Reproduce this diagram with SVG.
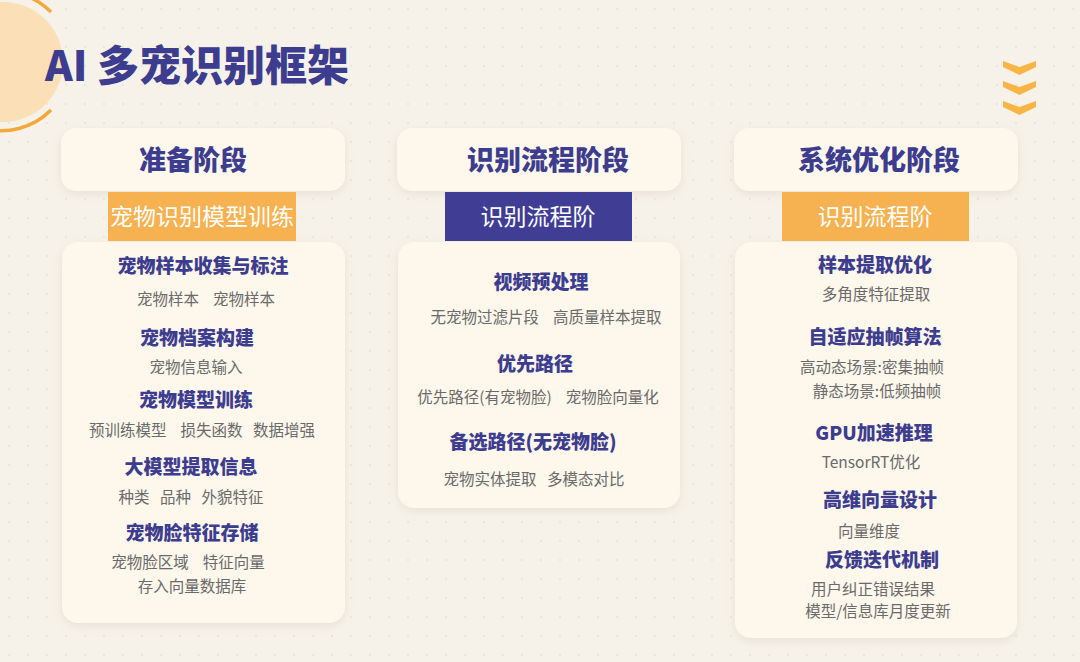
<svg xmlns="http://www.w3.org/2000/svg" width="1080" height="662" viewBox="0 0 1080 662">
<defs>
<pattern id="dots" x="0" y="0" width="19" height="19" patternUnits="userSpaceOnUse">
<circle cx="9" cy="9" r="1.1" fill="#e9e3d6"/>
</pattern>
<filter id="sh" x="-10%" y="-10%" width="120%" height="130%">
<feDropShadow dx="0" dy="3" stdDeviation="5" flood-color="#b8a98a" flood-opacity="0.22"/>
</filter>
<style>
.card{fill:#fdf7ec;filter:url(#sh);}
.head{font-family:"Noto Sans CJK SC","Noto Sans",sans-serif;font-weight:900;font-size:27px;fill:#3d3d8f;text-anchor:middle;}
.sub{font-family:"Noto Sans CJK SC","Noto Sans",sans-serif;font-weight:400;font-size:23px;fill:#ffffff;text-anchor:middle;}
.t{font-family:"Noto Sans CJK SC","Noto Sans",sans-serif;font-weight:900;font-size:19px;fill:#3d3d8f;text-anchor:middle;}
.d{font-family:"Noto Sans CJK SC","Noto Sans",sans-serif;font-weight:400;font-size:15.5px;fill:#6a6a6a;text-anchor:middle;}
.chev{fill:#f8b545;}
</style>
</defs>
<rect width="1080" height="662" fill="#f6f2e9"/>
<rect width="1080" height="662" fill="url(#dots)"/>

<g id="decor">
<circle cx="3" cy="62" r="60" fill="#fadcae" opacity="0.85"/>
<path d="M 51 12 A 70 70 0 0 0 -18 -6" fill="none" stroke="#f5a83a" stroke-width="3.5"/>
<path d="M 51 110 A 70 70 0 0 1 -18 128" fill="none" stroke="#f5a83a" stroke-width="3.5"/>
<g id="chevrons">
<polygon class="chev" points="1003,61 1019.5,67 1036,61 1036,67 1019.5,75 1003,67"/>
<polygon class="chev" points="1003,81 1019.5,87 1036,81 1036,87 1019.5,95 1003,87"/>
<polygon class="chev" points="1003,101 1019.5,107 1036,101 1036,107 1019.5,115 1003,107"/>
</g>
</g>

<text id="title" x="45" y="81" font-family="'Noto Sans CJK SC','Noto Sans',sans-serif" font-weight="900" font-size="42" fill="#3d3d8f">AI 多宠识别框架</text>

<g id="connectors"></g>

<!-- Column 1 -->
<g id="col1">
<g id="col1-header">
<rect class="card" x="61" y="128" width="284" height="63" rx="15"/>
<text class="head" x="193" y="170">准备阶段</text>
</g>
<g id="col1-body">
<rect class="card" x="62" y="242" width="283" height="381" rx="16"/>
<text class="t" x="203" y="273">宠物样本收集与标注</text>
<text class="d" x="206" y="305" xml:space="preserve">宠物样本    宠物样本</text>
<text class="t" x="197" y="345">宠物档案构建</text>
<text class="d" x="196" y="373">宠物信息输入</text>
<text class="t" x="196" y="407">宠物模型训练</text>
<text class="d" x="202" y="436" xml:space="preserve">预训练模型    损失函数   数据增强</text>
<text class="t" x="191" y="474">大模型提取信息</text>
<text class="d" x="191" y="503" xml:space="preserve">种类   品种   外貌特征</text>
<text class="t" x="192" y="540">宠物脸特征存储</text>
<text class="d" x="188" y="568" xml:space="preserve">宠物脸区域    特征向量</text>
<text class="d" x="192" y="592">存入向量数据库</text>
</g>
<g id="col1-tag">
<rect x="108" y="192" width="188" height="49" fill="#f6b150"/>
<text class="sub" x="202" y="225">宠物识别模型训练</text>
</g>
</g>

<!-- Column 2 -->
<g id="col2">
<g id="col2-header">
<rect class="card" x="397" y="128" width="284" height="63" rx="15"/>
<text class="head" x="548" y="170">识别流程阶段</text>
</g>
<g id="col2-body">
<rect class="card" x="398" y="242" width="282" height="266" rx="16"/>
<text class="t" x="541" y="289">视频预处理</text>
<text class="d" x="546" y="323" xml:space="preserve">无宠物过滤片段    高质量样本提取</text>
<text class="t" x="535" y="371">优先路径</text>
<text class="d" x="538" y="403" xml:space="preserve">优先路径(有宠物脸)    宠物脸向量化</text>
<text class="t" x="533" y="449">备选路径(无宠物脸)</text>
<text class="d" x="534" y="485" xml:space="preserve">宠物实体提取   多模态对比</text>
</g>
<g id="col2-tag">
<rect x="445" y="192" width="187" height="49" fill="#3f3e94"/>
<text class="sub" x="538" y="225">识别流程阶</text>
</g>
</g>

<!-- Column 3 -->
<g id="col3">
<g id="col3-header">
<rect class="card" x="734" y="128" width="284" height="63" rx="15"/>
<text class="head" x="879" y="170">系统优化阶段</text>
</g>
<g id="col3-body">
<rect class="card" x="735" y="242" width="282" height="396" rx="16"/>
<text class="t" x="875" y="272">样本提取优化</text>
<text class="d" x="876" y="300">多角度特征提取</text>
<text class="t" x="875" y="344">自适应抽帧算法</text>
<text class="d" x="872" y="373">高动态场景:密集抽帧</text>
<text class="d" x="877" y="397">静态场景:低频抽帧</text>
<text class="t" x="874" y="440">GPU加速推理</text>
<text class="d" x="871" y="468">TensorRT优化</text>
<text class="t" x="880" y="507">高维向量设计</text>
<text class="d" x="869" y="537">向量维度</text>
<text class="t" x="882" y="567">反馈迭代机制</text>
<text class="d" x="873" y="595">用户纠正错误结果</text>
<text class="d" x="878" y="617">模型/信息库月度更新</text>
</g>
<g id="col3-tag">
<rect x="782" y="192" width="187" height="49" fill="#f6b150"/>
<text class="sub" x="875" y="225">识别流程阶</text>
</g>
</g>
</svg>
